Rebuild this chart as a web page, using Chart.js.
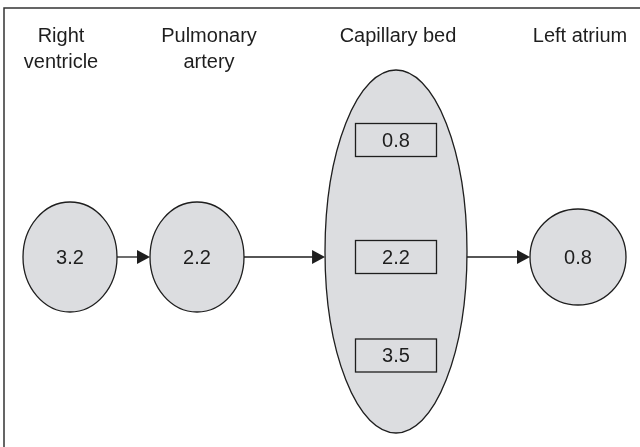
<!DOCTYPE html>
<html>
<head>
<meta charset="utf-8">
<script src="https://cdn.jsdelivr.net/npm/chart.js@4.4.1/dist/chart.umd.min.js"></script>
<style>
  html, body { margin: 0; padding: 0; background: #fff; }
  #wrap { width: 640px; height: 447px; }
</style>
</head>
<body>
<div id="wrap"><canvas id="diagram"></canvas></div>
<script>
// stages of the pulmonary circulation and their values
const stageLabels = [['Right', 'ventricle'], ['Pulmonary', 'artery'], ['Capillary bed'], ['Left atrium']];
const stageValues = [3.2, 2.2, null, 0.8];
const bedValues = [0.8, 2.2, 3.5];

// layout in page units (x 0-640, y 0-447 from the top)
const stageX = [70, 197, 396, 578];
const stageY = [257, 257, 251.5, 257];
const stageRx = [47, 47, 71, 48];
const stageRy = [55, 55, 181.5, 48];
const labelX = [61, 209, 398, 580];
const labelBaseline = [42, 68];
const boxY = [140, 257, 355.5];
const boxW = 81, boxH = 33;
const arrowY = 257;

const INK = '#1e1e1e';
const FILL = '#dcdde0';
const FONT = '"Liberation Sans", Arial, Helvetica, sans-serif';

const diagramPlugin = {
    id: 'diagram',
    afterDatasetsDraw(chart) {
        const { ctx, scales: { x, y } } = chart;
        const px = v => x.getPixelForValue(v);
        const py = v => y.getPixelForValue(v);
        const stages = chart.getDatasetMeta(0).data;
        const beds = chart.getDatasetMeta(1).data;

        ctx.save();

        // frame (left and top edges only)
        ctx.strokeStyle = '#333';
        ctx.lineWidth = 1.5;
        ctx.beginPath();
        ctx.moveTo(px(4), py(447));
        ctx.lineTo(px(4), py(8));
        ctx.lineTo(px(640), py(8));
        ctx.stroke();

        // stage shapes
        stages.forEach((pt, i) => {
            const rx = px(stageX[i] + stageRx[i]) - pt.x;
            const ry = py(stageY[i] + stageRy[i]) - pt.y;
            ctx.beginPath();
            ctx.ellipse(pt.x, pt.y, rx, ry, 0, 0, Math.PI * 2);
            ctx.fillStyle = FILL;
            ctx.fill();
            ctx.strokeStyle = INK;
            ctx.lineWidth = 1.3;
            ctx.stroke();
        });

        // boxes inside the capillary bed
        ctx.lineWidth = 1.3;
        beds.forEach((pt, i) => {
            const w = px(boxW) - px(0), h = py(boxH) - py(0);
            ctx.strokeRect(pt.x - w / 2, pt.y - h / 2, w, h);
        });

        // texts
        ctx.fillStyle = INK;
        ctx.font = '20px ' + FONT;
        ctx.textAlign = 'center';
        ctx.textBaseline = 'middle';
        stages.forEach((pt, i) => {
            if (stageValues[i] !== null) ctx.fillText(stageValues[i].toFixed(1), pt.x, pt.y + 1);
        });
        beds.forEach((pt, i) => ctx.fillText(bedValues[i].toFixed(1), pt.x, pt.y + 1));

        ctx.textBaseline = 'alphabetic';
        stageLabels.forEach((lines, i) => {
            lines.forEach((line, j) => ctx.fillText(line, px(labelX[i]), py(labelBaseline[j])));
        });

        // arrows between stages
        const yA = py(arrowY);
        for (let i = 0; i < stages.length - 1; i++) {
            const dyA = (arrowY - stageY[i]) / stageRy[i];
            const dyB = (arrowY - stageY[i + 1]) / stageRy[i + 1];
            const x0 = px(stageX[i] + stageRx[i] * Math.sqrt(1 - dyA * dyA));
            const x1 = px(stageX[i + 1] - stageRx[i + 1] * Math.sqrt(1 - dyB * dyB));
            ctx.strokeStyle = INK;
            ctx.lineWidth = 1.3;
            ctx.beginPath();
            ctx.moveTo(x0, yA);
            ctx.lineTo(x1 - 10, yA);
            ctx.stroke();
            ctx.beginPath();
            ctx.moveTo(x1, yA);
            ctx.lineTo(x1 - 13, yA - 7);
            ctx.lineTo(x1 - 13, yA + 7);
            ctx.closePath();
            ctx.fill();
        }

        ctx.restore();
    }
};

new Chart(document.getElementById('diagram'), {
    type: 'scatter',
    data: {
        datasets: [{
            label: 'Stages',
            data: stageX.map((v, i) => ({ x: v, y: stageY[i] })),
            pointRadius: 0
        }, {
            label: 'Capillary bed',
            data: boxY.map(v => ({ x: stageX[2], y: v })),
            pointRadius: 0
        }]
    },
    options: {
        responsive: true,
        maintainAspectRatio: false,
        animation: false,
        layout: { padding: 0 },
        scales: {
            x: { type: 'linear', min: 0, max: 640, display: false },
            y: { type: 'linear', min: 0, max: 447, reverse: true, display: false }
        },
        plugins: {
            legend: { display: false },
            tooltip: { enabled: false }
        }
    },
    plugins: [diagramPlugin]
});
</script>
</body>
</html>
